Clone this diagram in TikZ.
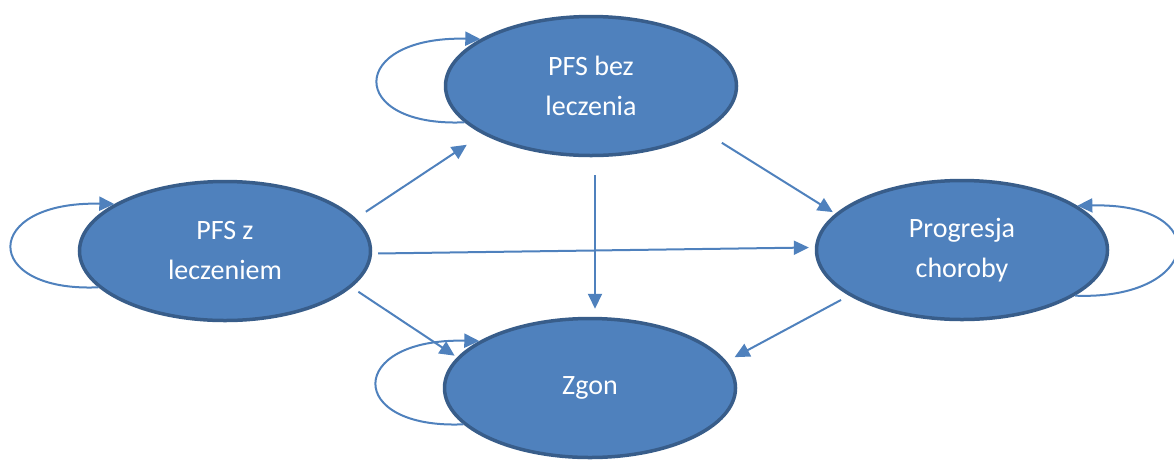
\documentclass[tikz,border=0pt]{standalone}
\usepackage{fontspec}
\setmainfont{Carlito}
\usetikzlibrary{shapes.geometric,arrows.meta}
\definecolor{stateblue}{HTML}{4F81BD}
\definecolor{stateedge}{HTML}{385D8A}

\begin{document}
\begin{tikzpicture}[x=1pt,y=-1pt,%
% common options for the states:
state/.style = {ellipse, draw=stateedge, fill=stateblue, line width=3.5pt,
            minimum width=291pt, minimum height=139pt, inner sep=0,
            align=center, text=white, font=\fontsize{28}{40}\selectfont},
% common options for the transitions:
trans/.style = {-{Triangle[length=15pt,width=14pt]}, draw=stateblue,
            line width=2pt}]
\useasboundingbox (0,0) rectangle (1174,459);
\node[state] (PZ) at (225,251) {PFS z\\leczeniem};
\node[state] (PB) at (591,86) {PFS bez\\leczenia};
\node[state] (PR) at (962,250) {Progresja\\choroby};
\node[state] (ZG) at (590,388) {Zgon};
% self loops
\draw[trans] (PZ.196) .. controls +(-118,5) and +(-133,-3) .. (PZ.157);
\draw[trans] (PB.196) .. controls +(-118,5) and +(-133,-3) .. (PB.157);
\draw[trans] (ZG.196) .. controls +(-118,5) and +(-133,-3) .. (ZG.157);
\draw[trans] (PR.338) .. controls +(125,5) and +(140,-3) .. (PR.21);
% transitions between states
\draw[trans, shorten <=12pt, shorten >=19pt] (PZ.14) -- (PB.204);
\draw[trans, shorten <=6pt, shorten >=6pt] (PZ.-1) -- (PR.179);
\draw[trans, shorten <=8pt, shorten >=3pt] (PZ.-16) -- (ZG.167);
\draw[trans, shorten <=18pt, shorten >=8pt] ([xshift=4pt]PB.south) -- ([xshift=5pt]ZG.north);
\draw[trans, shorten <=21pt, shorten >=3pt] (PB.-22) -- (PR.164);
\draw[trans, shorten <=9pt, shorten >=9pt] (PR.202) -- (ZG.11);
\end{tikzpicture}
\end{document}
